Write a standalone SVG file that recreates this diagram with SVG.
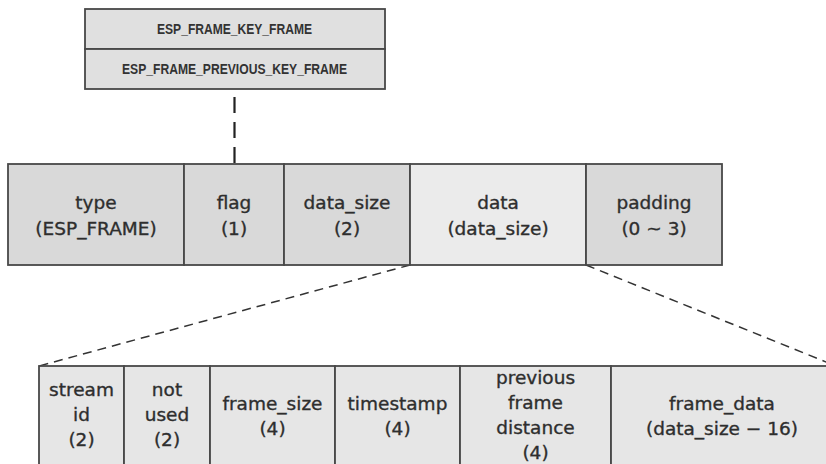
<svg xmlns="http://www.w3.org/2000/svg" width="826" height="464" viewBox="0 0 826 464">
<style>
  .cell { stroke: #484848; stroke-width: 1.8; }
  .g1 { fill: #d9d9d9; }
  .g2 { fill: #ebebeb; }
  .g3 { fill: #e6e6e6; }
  .g4 { fill: #e0e0e0; }
  .lbl { font-family: "DejaVu Sans", "Liberation Sans", sans-serif; font-size: 18.5px; fill: #2e2e2e; stroke: #2e2e2e; stroke-width: 0.35; text-anchor: middle; }
  .small { font-family: "Liberation Sans", Arial, sans-serif; font-size: 14.5px; font-weight: bold; fill: #333; text-anchor: middle; }
  .dash { fill: none; stroke: #333; stroke-width: 1.5; stroke-dasharray: 9 6; }
  .vdash { fill: none; stroke: #222; stroke-width: 2.2; stroke-dasharray: 16 9; }
</style>
<rect x="0" y="0" width="826" height="464" fill="#ffffff"/>

<g id="connectors">
  <line class="vdash" x1="234.5" y1="97" x2="234.5" y2="164"/>
  <line class="dash" x1="410" y1="265" x2="39" y2="366"/>
  <line class="dash" x1="586" y1="265" x2="836" y2="366"/>
</g>

<g id="flags">
  <rect class="cell g4" x="85" y="9" width="300" height="40"/>
  <text class="small" x="234.5" y="34" textLength="155" lengthAdjust="spacingAndGlyphs">ESP_FRAME_KEY_FRAME</text>
  <rect class="cell g4" x="85" y="49" width="300" height="40"/>
  <text class="small" x="234.5" y="74" textLength="225" lengthAdjust="spacingAndGlyphs">ESP_FRAME_PREVIOUS_KEY_FRAME</text>
</g>

<g id="type">
  <rect class="cell g1" x="8" y="164" width="176" height="101"/>
  <text class="lbl" x="96" y="209">type</text>
  <text class="lbl" x="96" y="235">(ESP_FRAME)</text>
</g>
<g id="flag">
  <rect class="cell g1" x="184" y="164" width="100" height="101"/>
  <text class="lbl" x="234" y="209">flag</text>
  <text class="lbl" x="234" y="235">(1)</text>
</g>
<g id="data_size">
  <rect class="cell g1" x="284" y="164" width="126" height="101"/>
  <text class="lbl" x="347" y="209">data_size</text>
  <text class="lbl" x="347" y="235">(2)</text>
</g>
<g id="data">
  <rect class="cell g2" x="410" y="164" width="176" height="101"/>
  <text class="lbl" x="498" y="209">data</text>
  <text class="lbl" x="498" y="235">(data_size)</text>
</g>
<g id="padding">
  <rect class="cell g1" x="586" y="164" width="136" height="101"/>
  <text class="lbl" x="654" y="209">padding</text>
  <text class="lbl" x="654" y="235">(0 ~ 3)</text>
</g>

<g id="stream_id">
  <rect class="cell g3" x="39" y="366" width="85" height="110"/>
  <text class="lbl" x="81.5" y="396">stream</text>
  <text class="lbl" x="81.5" y="421">id</text>
  <text class="lbl" x="81.5" y="446">(2)</text>
</g>
<g id="not_used">
  <rect class="cell g3" x="124" y="366" width="86" height="110"/>
  <text class="lbl" x="167" y="396">not</text>
  <text class="lbl" x="167" y="421">used</text>
  <text class="lbl" x="167" y="446">(2)</text>
</g>
<g id="frame_size">
  <rect class="cell g3" x="210" y="366" width="125" height="110"/>
  <text class="lbl" x="272.5" y="410">frame_size</text>
  <text class="lbl" x="272.5" y="435">(4)</text>
</g>
<g id="timestamp">
  <rect class="cell g3" x="335" y="366" width="125" height="110"/>
  <text class="lbl" x="397.5" y="410">timestamp</text>
  <text class="lbl" x="397.5" y="435">(4)</text>
</g>
<g id="previous_frame_distance">
  <rect class="cell g3" x="460" y="366" width="151" height="110"/>
  <text class="lbl" x="535.5" y="383.5">previous</text>
  <text class="lbl" x="535.5" y="408.5">frame</text>
  <text class="lbl" x="535.5" y="433.5">distance</text>
  <text class="lbl" x="535.5" y="458.5">(4)</text>
</g>
<g id="frame_data">
  <rect class="cell g3" x="611" y="366" width="230" height="110"/>
  <text class="lbl" x="722" y="410">frame_data</text>
  <text class="lbl" x="722" y="435">(data_size − 16)</text>
</g>
</svg>
